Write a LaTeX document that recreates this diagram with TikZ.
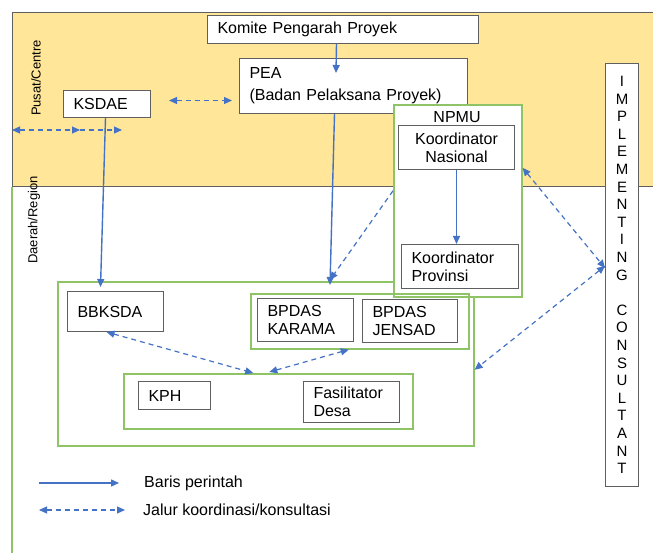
\documentclass[tikz,border=0pt]{standalone}
\usepackage{fontspec}
\setmainfont{Liberation Sans}
\usetikzlibrary{arrows.meta,calc}
\definecolor{ybg}{HTML}{FFE699}
\definecolor{grn}{HTML}{8FC466}
\definecolor{blu}{HTML}{4472C4}
\definecolor{bgray}{HTML}{5F5F5F}
\begin{document}
\begin{tikzpicture}[x=1pt,y=-1pt,
 box/.style={draw=bgray, line width=1pt, fill=white, anchor=north west, inner xsep=10pt, inner ysep=0pt, align=left, font=\fontsize{16}{18}\selectfont},
 grp/.style={draw=grn, line width=1.6pt, anchor=north west, inner sep=0pt},
 cmd/.style={draw=blu, line width=1.4pt, -{Triangle[length=8pt,width=7pt]}},
 crd/.style={draw=blu, line width=1.2pt, dash pattern=on 5pt off 4pt, {Triangle[length=8pt,width=7pt]}-{Triangle[length=8pt,width=7pt]}},
 crdone/.style={draw=blu, line width=1.2pt, dash pattern=on 5pt off 4pt, -{Triangle[length=8pt,width=7pt]}},
 lab/.style={font=\fontsize{13}{15}\selectfont, rotate=90, inner sep=0pt},
 txt/.style={font=\fontsize{16}{18}\selectfont, anchor=west, inner sep=0pt}
]
\useasboundingbox (0,0) rectangle (653,553);
\fill[white] (0,0) rectangle (653,553);
% zones
\fill[ybg] (12,13) rectangle (653,187);
\draw[bgray, line width=1pt] (653,13) -- (12,13) -- (12,187) -- (653,187);
\draw[grn, line width=1.6pt] (12,187) -- (12,553);
\node[lab] (pusat) at (36,78) {Pusat/Centre};
\node[lab] (daerah) at (34,220) {Daerah/Region};

% outer region group
\node[grp, minimum width=416pt, minimum height=164pt] (outer) at (57,281) {};
% top boxes
\node[box, text width=251pt, minimum height=28pt] (kom) at (207,15) {Komite Pengarah Proyek};
\node[box, text width=208pt, minimum height=55pt] (pea) at (239,58) {PEA\\[4pt](Badan Pelaksana Proyek)};
\node[box, text width=67pt, minimum height=27pt] (ksdae) at (63,90) {KSDAE};
% NPMU
\node[grp, fill=white, minimum width=128pt, minimum height=192pt] (npmu) at (393,104) {};
\node[font=\fontsize{16}{18}\selectfont, inner sep=0pt] (npmulab) at (457,117) {NPMU};
\node[box, align=center, text width=96pt, minimum height=44pt] (nas) at (398,125) {Koordinator\\Nasional};
\node[box, text width=97pt, minimum height=44pt] (prov) at (401,244) {Koordinator\\Provinsi};
% regional groups
\node[grp, minimum width=218pt, minimum height=55pt] (bpg) at (250,293) {};
\node[box, text width=76pt, minimum height=40pt] (bbksda) at (67,291) {BBKSDA};
\node[box, text width=76pt, minimum height=43pt] (kar) at (257,298) {BPDAS\\KARAMA};
\node[box, text width=75pt, minimum height=43pt] (jen) at (362,299) {BPDAS\\JENSAD};
\node[grp, minimum width=289pt, minimum height=55pt] (kphg) at (123,373) {};
\node[box, text width=52pt, minimum height=28pt] (kph) at (138,381) {KPH};
\node[box, text width=76pt, minimum height=41pt] (fas) at (303,381) {Fasilitator\\Desa};
% implementing consultant
\node[draw=bgray, line width=1pt, fill=white, anchor=north west, minimum width=33pt, minimum height=423pt, inner sep=0pt, align=center, font=\fontsize{15}{17.6}\selectfont] (impl) at (605,63)
 {I\\M\\P\\L\\E\\M\\E\\N\\T\\I\\N\\G\\\mbox{}\\C\\O\\N\\S\\U\\L\\T\\A\\N\\T};

% command lines
\coordinate (peain) at (336,73);
\coordinate (peaend) at (330,285);
\draw[cmd] ([xshift=-6.5pt]kom.south) -- (peain);
\draw[cmd] ([xshift=-19pt]pea.south) -- (peaend);
\draw[cmd] ([xshift=-1.5pt]ksdae.south) -- ([xshift=-15pt,yshift=4pt]bbksda.north);
\draw[cmd] (nas.south) -- (nas.south |- prov.north);

% coordination lines
\draw[crd] ([xshift=18pt,yshift=3.5pt]ksdae.east) -- ([xshift=-7pt,yshift=-14.5pt]pea.west);
\coordinate (l1) at (12,130);
\coordinate (l2) at (80,130);
\coordinate (l3) at (122,130);
\draw[crd] (l1) -- (l2);
\draw[crdone] (l2) -- (l3);
\draw[crdone] ([yshift=10pt]npmu.west) -- ([yshift=5pt]peaend);
\draw[crd] ([yshift=33pt]npmu.east) -- ([yshift=7pt]impl.west);
\draw[crd] ([yshift=9pt]impl.west) -- ([yshift=-6pt]outer.east);
\draw[crd] ([xshift=-9pt]bbksda.south) -- ([xshift=-15pt]kphg.north);
\draw[crd] ([xshift=1pt,yshift=1pt]kphg.north) -- ([xshift=-11pt]bpg.south);

% legend
\coordinate (a1) at (39,483);
\coordinate (a2) at (119,483);
\coordinate (b1) at (39,510);
\coordinate (b2) at (125,510);
\draw[cmd] (a1) -- (a2);
\draw[crd] (b1) -- (b2);
\node[txt] (lg1) at (144,483) {Baris perintah};
\node[txt] (lg2) at (143,510) {Jalur koordinasi/konsultasi};
\end{tikzpicture}
\end{document}
